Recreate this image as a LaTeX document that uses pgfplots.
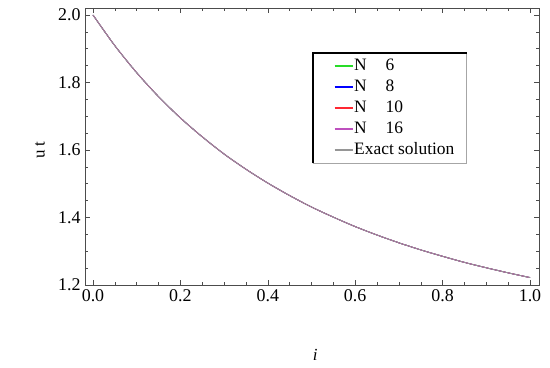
\documentclass[border=0pt]{standalone}
\usepackage{fontspec}
\setmainfont{Liberation Serif}
\usepackage{pgfplots}
\usepackage{pgfplotstable}
\pgfplotsset{compat=1.18}
\pgfplotstableread{
t u
0.00 2.000
0.05 1.909
0.10 1.829
0.15 1.758
0.20 1.695
0.25 1.639
0.30 1.588
0.35 1.543
0.40 1.502
0.45 1.465
0.50 1.431
0.55 1.401
0.60 1.373
0.65 1.348
0.70 1.325
0.75 1.304
0.80 1.285
0.85 1.267
0.90 1.251
0.95 1.236
1.00 1.222
}\exact
\definecolor{ngreen}{RGB}{40,220,40}
\definecolor{nblue}{RGB}{0,0,255}
\definecolor{nred}{RGB}{255,40,50}
\definecolor{nmag}{RGB}{190,80,190}
\definecolor{exgray}{RGB}{150,150,150}
\begin{document}
\begin{tikzpicture}
\begin{axis}[
  name=ax,
  scale only axis,
  width=454bp, height=277bp,
  xmin=-0.0183, xmax=1.0206,
  ymin=1.2, ymax=2.0207,
  xtick={0,0.2,0.4,0.6,0.8,1.0},
  ytick={1.2,1.4,1.6,1.8,2.0},
  minor x tick num=3, minor y tick num=3,
  tick align=inside,
  major tick length=5bp, minor tick length=3bp,
  axis line style={gray!60!black, line width=0.6pt},
  every tick/.style={gray!60!black, line width=0.5pt},
  tick label style={font=\fontsize{18}{20}\selectfont},
  /pgf/number format/.cd, fixed, fixed zerofill, precision=1, assume math mode=true,
  /pgfplots/.cd,
  xticklabel style={yshift=-1bp},
  yticklabel style={xshift=-1bp},
  xlabel={\textit{i}},
  ylabel={u t},
  label style={font=\fontsize{17}{19}\selectfont},
  xlabel style={at={(axis description cs:0.507,-0.253)}, anchor=center},
  ylabel style={at={(axis description cs:-0.099,0.487)}, anchor=center},
  legend style={name=leg, at={(axis description cs:0.502,0.838)}, anchor=north west,
    draw=none, inner xsep=11bp, inner ysep=4bp,
    font=\fontsize{17.5}{19}\selectfont, row sep=3bp,
    nodes={inner sep=1bp, text height=12bp, text depth=4bp}},
  legend cell align=left,
  legend image code/.code={\path (-10bp,0bp); \draw[#1, line width=1.3pt] (0bp,0bp) -- (18bp,0bp);},
]
\addplot[ngreen, line width=0.8pt, smooth] table[x=t,y=u] {\exact};
\addlegendentry{N\hspace{19bp}6}
\addplot[nblue, line width=0.8pt, smooth] table[x=t,y=u] {\exact};
\addlegendentry{N\hspace{19bp}8}
\addplot[nred, line width=0.8pt, smooth] table[x=t,y=u] {\exact};
\addlegendentry{N\hspace{19bp}10}
\addplot[nmag, line width=0.8pt, smooth] table[x=t,y=u] {\exact};
\addlegendentry{N\hspace{19bp}16}
\addplot[exgray, line width=0.8pt, smooth] table[x=t,y=u] {\exact};
\addlegendentry{Exact solution}
\end{axis}
\draw[gray!70, line width=0.6pt] (leg.south west) rectangle (leg.north east);
\draw[line width=2bp] (leg.south west) -- (leg.north west) -- (leg.north east);
\path ([shift={(-85bp,-83bp)}]ax.south west) rectangle ([shift={(11bp,8bp)}]ax.north east);
\end{tikzpicture}
\end{document}
